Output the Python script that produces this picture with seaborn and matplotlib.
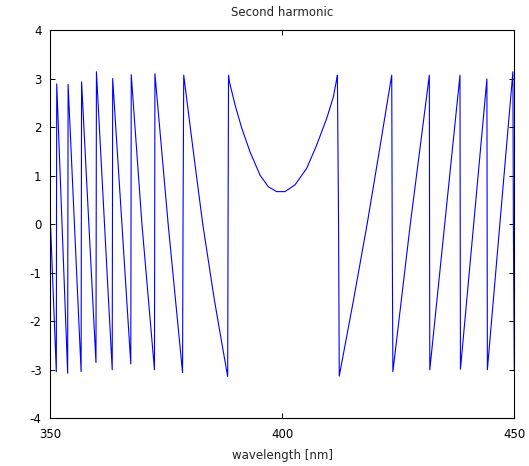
import matplotlib
matplotlib.use("Agg")
import matplotlib.pyplot as plt
import seaborn as sns
import pandas as pd

# ---- data (wrapped phase, rad) ----
wavelength_nm = [
    350.00, 351.36, 351.40, 351.45,
    353.80, 353.85, 353.90,
    356.70, 356.75, 356.80,
    359.90, 359.95, 360.00,
    363.40, 363.45, 363.50,
    367.40, 367.45, 367.50,
    369.80,
    372.50, 372.55, 372.60,
    375.45,
    378.55, 378.65, 378.80,
    381.00, 382.90, 385.40, 387.10,
    388.27, 388.35, 388.45,
    388.62, 389.85, 391.29, 393.08, 395.23, 397.02, 398.83, 400.60,
    402.77, 405.29, 407.44, 409.60, 411.02, 411.80,
    411.90, 412.15, 412.30,
    415.30, 418.30, 421.00,
    423.60, 423.70, 423.85,
    427.60,
    431.70, 431.75, 431.80,
    438.30, 438.35, 438.40,
    444.10, 444.15, 444.20,
    449.70, 449.80, 450.00,
]
phase_rad = [
    0.27, -3.04, 0.00, 2.89,
    -3.07, 0.00, 2.88,
    -3.04, 0.00, 2.93,
    -2.85, 0.00, 3.14,
    -3.00, 0.00, 3.00,
    -2.88, 0.00, 3.08,
    0.00,
    -3.00, 0.00, 3.10,
    0.00,
    -3.06, 0.00, 3.07,
    1.40, 0.00, -1.56, -2.50,
    -3.14, 0.00, 3.07,
    2.94, 2.46, 1.98, 1.49, 1.01, 0.77, 0.67, 0.67,
    0.81, 1.15, 1.63, 2.18, 2.62, 3.01,
    3.07, 0.00, -3.13,
    -1.60, 0.00, 1.55,
    3.07, 0.00, -3.04,
    0.00,
    3.07, 0.00, -3.00,
    3.07, 0.00, -2.99,
    2.99, 0.00, -3.00,
    3.14, 0.00, -3.00,
]
x_ticks = [350, 400, 450]
y_ticks = [-4, -3, -2, -1, 0, 1, 2, 3, 4]
title_text = "Second harmonic"
xlabel_text = "wavelength [nm]"

df = pd.DataFrame({"wavelength": wavelength_nm, "phase": phase_rad})

sns.set_style("ticks")
plt.rcParams["font.family"] = ["DejaVu Sans"]

fig = plt.figure(figsize=(5.29, 4.66), dpi=100)
ax = fig.add_axes([50 / 529, 1 - 418.3 / 466, (514.3 - 50) / 529, (418.3 - 30) / 466])

sns.lineplot(data=df, x="wavelength", y="phase", sort=False, estimator=None,
             color="#0000ff", linewidth=0.8, ax=ax)

ax.set_xlim(350, 450)
ax.set_ylim(-4, 4)
ax.set_xticks(x_ticks)
ax.set_yticks(y_ticks)
ax.set_xticklabels([str(t) for t in x_ticks])
ax.set_yticklabels([str(t) for t in y_ticks])

ax.tick_params(direction="in", length=3.5, width=0.7, labelsize=8.5,
               top=True, right=True, colors="black")
ax.tick_params(axis="y", pad=6)
ax.tick_params(axis="x", pad=7)
for s in ax.spines.values():
    s.set_visible(True)
    s.set_linewidth(0.8)
    s.set_color("black")

ax.set_title(title_text, fontsize=8.5, pad=10)
ax.set_xlabel(xlabel_text, fontsize=8.5, labelpad=6)
ax.set_ylabel("")

fig.savefig("out.png", dpi=100, facecolor="white")
